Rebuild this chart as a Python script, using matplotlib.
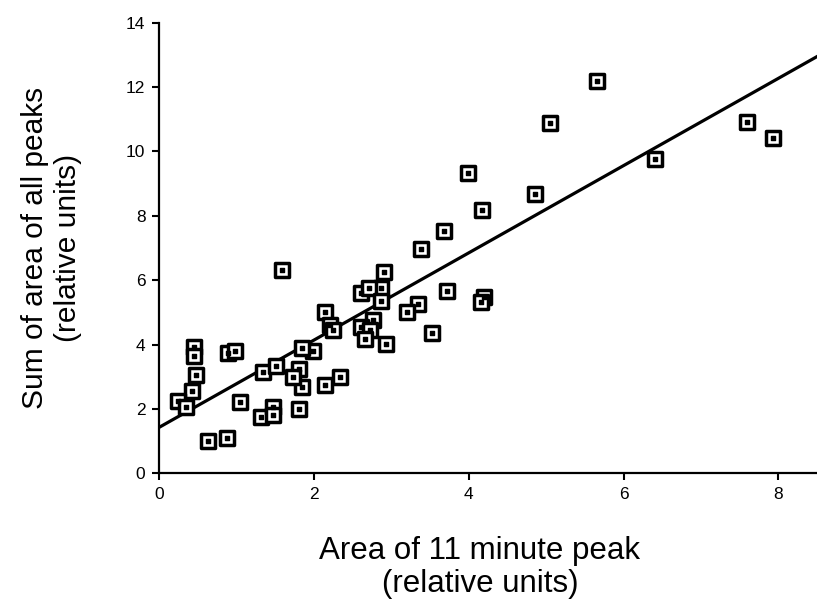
import matplotlib
matplotlib.use("Agg")
import matplotlib.pyplot as plt
import numpy as np

plt.rcParams['font.family'] = ['Liberation Sans', 'DejaVu Sans']

# area of 11 minute peak (relative units)
peak11 = [5.66, 5.05, 3.99, 4.85, 4.17, 3.68, 3.38, 2.90, 2.87, 3.72,
          3.34, 4.20, 4.16, 6.41, 7.59, 7.93, 2.61, 2.71, 2.87, 3.20,
          2.14, 2.20, 2.25, 2.76, 2.61, 2.72, 2.66, 2.93, 3.52, 1.99,
          1.84, 1.80, 1.84, 2.14, 2.34, 1.80, 1.59, 0.45, 0.45, 0.48,
          0.42, 0.24, 0.35, 0.89, 0.98, 1.04, 0.63, 0.87, 1.34, 1.51,
          1.32, 1.47, 1.47, 1.73]
# sum of area of all peaks (relative units)
allPeaks = [12.20, 10.89, 9.33, 8.68, 8.18, 7.54, 6.98, 6.24, 5.75, 5.67,
            5.26, 5.49, 5.31, 9.77, 10.91, 10.42, 5.60, 5.75, 5.34, 5.02,
            5.02, 4.61, 4.46, 4.77, 4.54, 4.44, 4.17, 4.02, 4.35, 3.81,
            3.89, 3.25, 2.68, 2.75, 2.99, 2.00, 6.32, 3.92, 3.63, 3.06,
            2.57, 2.25, 2.07, 3.73, 3.80, 2.23, 1.01, 1.09, 3.16, 3.32,
            1.76, 2.07, 1.81, 2.99]

# fitted line
intercept = 1.43
slope = 1.355

xTicks = [0, 2, 4, 6, 8]
yTicks = [0, 2, 4, 6, 8, 10, 12, 14]

fig = plt.figure(figsize=(8.17, 6.07), dpi=100)
ax = fig.add_axes([0.195, 0.2203, 0.805, 0.7423])

ax.scatter(peak11, allPeaks, marker='s', s=90, facecolor='white',
           edgecolor='black', linewidth=2.5, zorder=3)
ax.scatter(peak11, allPeaks, marker='s', s=5, color='black', zorder=4)

lineX = np.array([0, 8.5])
ax.plot(lineX, intercept + slope * lineX, color='black', linewidth=2.3, zorder=2)

ax.set_xlim(0, 8.5)
ax.set_ylim(0, 14)
ax.set_xticks(xTicks)
ax.set_yticks(yTicks)

for side in ['top', 'right']:
    ax.spines[side].set_visible(False)
for side in ['left', 'bottom']:
    ax.spines[side].set_linewidth(1.6)

ax.tick_params(axis='both', direction='out', length=5, width=1.5,
               labelsize=12.5, pad=5)

ax.set_xlabel('Area of 11 minute peak\n(relative units)', fontsize=22.5,
              linespacing=1.1)
ax.xaxis.set_label_coords(0.4875, -0.14)
ax.xaxis.label.set_va('top')
ax.set_ylabel('Sum of area of all peaks\n(relative units)', fontsize=21.5,
              linespacing=1.25)
ax.yaxis.set_label_coords(-0.117, 0.5)

fig.savefig('out.png', dpi=100)
